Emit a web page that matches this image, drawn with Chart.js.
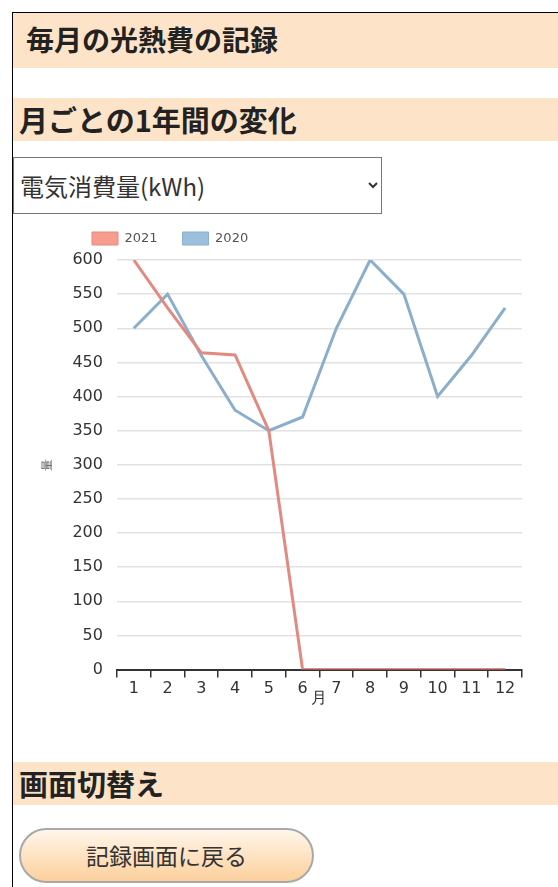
<!DOCTYPE html>
<html lang="ja">
<head>
<meta charset="utf-8">
<title>毎月の光熱費の記録</title>
<script src="https://cdn.jsdelivr.net/npm/chart.js@4"></script>
<style>
  body { margin: 0; background: #fff; font-family: "Noto Sans CJK JP", sans-serif; color: #222; }
  #page { position: absolute; left: 12px; top: 12px; width: 560px; height: 900px;
          border-left: 1px solid #000; border-top: 1px solid #000; }
  .head1 { height: 55px; line-height: 53px; background: #fde3c7; font-size: 28px; font-weight: bold; padding-left: 13px; }
  .head2 { height: 43px; line-height: 42px; background: #fde3c7; font-size: 29px; font-weight: bold; padding-left: 6px; }
  #kind { display: block; margin-top: 16px; width: 369px; height: 57px; font-size: 24px; color: #333;
          font-family: "Noto Sans CJK JP", sans-serif; border: 1px solid #767676; background: #fff; padding-left: 2px; }
  #chartBox { position: relative; margin-top: -7px; width: 527px; height: 507px; }
  .btn { margin: 23px 0 0 6px; width: 295px; height: 55px; box-sizing: border-box; border: 2px solid #a8a8a8;
         border-radius: 28px; background: linear-gradient(#fff6ea, #fcd09c); font-size: 23px; color: #333;
         text-align: center; line-height: 50px; }
</style>
</head>
<body>
<div id="page">
  <div class="head1">毎月の光熱費の記録</div>
  <div class="head2" style="margin-top:30px">月ごとの1年間の変化</div>
  <select id="kind"><option>電気消費量(kWh)</option></select>
  <div id="chartBox"><canvas id="chartCanvas"></canvas></div>
  <div class="head2" style="margin-top:48px">画面切替え</div>
  <div class="btn">記録画面に戻る</div>
</div>
<script>
var months = ["1", "2", "3", "4", "5", "6", "7", "8", "9", "10", "11", "12"];
var use2021 = [600, 530, 464, 461, 350, 0, 0, 0, 0, 0, 0, 0];
var use2020 = [500, 550, 460, 380, 350, 370, 500, 600, 550, 400, 460, 530];
var yTicks = [0, 50, 100, 150, 200, 250, 300, 350, 400, 450, 500, 550, 600];

// push the legend to the left and a bit up, like the original page
var legendShift = {
  id: "legendShift",
  afterLayout: function (chart) {
    chart.legend.left = 54;
    chart.legend.top -= 5;
    chart.legend.bottom -= 5;
  }
};

var ctx = document.getElementById("chartCanvas");
var useChart = new Chart(ctx, {
  type: "line",
  data: {
    labels: months,
    datasets: [
      {
        label: "2021",
        data: use2021,
        borderColor: "#e38a80",
        backgroundColor: "#f99c90",
        borderWidth: 3,
        pointRadius: 0,
        tension: 0
      },
      {
        label: "2020",
        data: use2020,
        borderColor: "#8aaecb",
        backgroundColor: "#9cc0dc",
        borderWidth: 3,
        pointRadius: 0,
        tension: 0
      }
    ]
  },
  options: {
    responsive: true,
    maintainAspectRatio: false,
    animation: false,
    layout: { padding: { left: 23, right: 18, top: 5, bottom: 6 } },
    plugins: {
      tooltip: { enabled: false },
      legend: {
        align: "start",
        labels: {
          boxWidth: 26,
          boxHeight: 13,
          padding: 25,
          color: "#555",
          font: { family: "DejaVu Sans", size: 13 },
          generateLabels: function (chart) {
            var items = Chart.defaults.plugins.legend.labels.generateLabels(chart);
            items.forEach(function (i) { i.lineWidth = 1; });
            return items;
          }
        }
      }
    },
    scales: {
      x: {
        offset: true,
        grid: { offset: true, drawOnChartArea: false, color: "#333", lineWidth: 1.5, tickLength: 8 },
        border: { color: "#333", width: 2 },
        ticks: { color: "#333", font: { family: "DejaVu Sans", size: 16 }, padding: 2, maxRotation: 0 },
        title: { display: true, text: "月", color: "#333", font: { size: 16 }, padding: { top: -12, bottom: 0 } }
      },
      y: {
        min: 0,
        max: 600,
        afterBuildTicks: function (axis) {
          axis.ticks = yTicks.map(function (v) { return { value: v }; });
        },
        grid: { color: "#e2e2e2", lineWidth: 1.5, drawTicks: false },
        border: { display: false },
        ticks: { color: "#333", font: { family: "DejaVu Sans", size: 16 }, padding: 14 },
        title: { display: true, text: "量", color: "#555", font: { size: 12 } }
      }
    }
  },
  plugins: [legendShift]
});
</script>
</body>
</html>
